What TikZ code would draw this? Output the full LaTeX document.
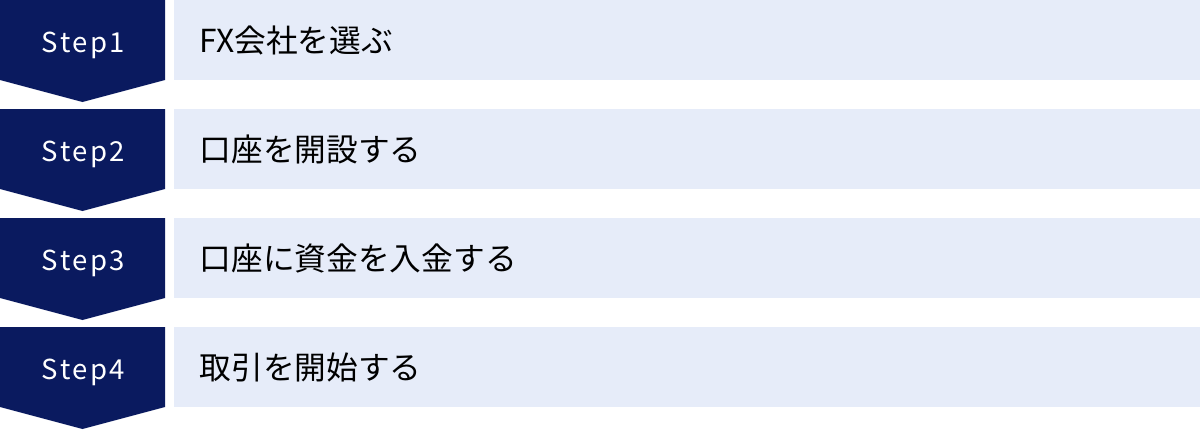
\documentclass[tikz,border=0pt]{standalone}
\usepackage{fontspec}
\setmainfont{Noto Sans CJK JP}
\newfontfamily\stepfont[LetterSpace=9]{Noto Sans CJK JP}
\definecolor{navy}{HTML}{0A1A5F}
\definecolor{pale}{HTML}{E6ECF9}
\begin{document}
\begin{tikzpicture}[x=1pt,y=-1pt,
  stepbox/.style={fill=navy,draw=none},
  bar/.style={fill=pale,draw=none},
  steplabel/.style={text=white,font=\stepfont\fontsize{27.5}{32}\selectfont,inner sep=0pt,anchor=base},
  tasklabel/.style={text=black,font=\fontsize{31.7}{36}\selectfont,inner sep=0pt,anchor=base west}]
\useasboundingbox (0,0) rectangle (1200,429);
\foreach \t [count=\n from 1] in {FX会社を選ぶ,口座を開設する,口座に資金を入金する,取引を開始する}{
  \pgfmathsetmacro\ytop{(\n-1)*109}
  \fill[stepbox] (0,\ytop) -- (165,\ytop) -- (165,\ytop+80) -- (82.5,\ytop+102) -- (0,\ytop+80) -- cycle;
  \fill[bar] (174,\ytop) rectangle (1200,\ytop+80);
  \node[steplabel] (s\n) at (83.5,\ytop+52) {Step\n};
  \node[tasklabel] (t\n) at (199.5,\ytop+52.3) {\t};
}
\end{tikzpicture}
\end{document}
